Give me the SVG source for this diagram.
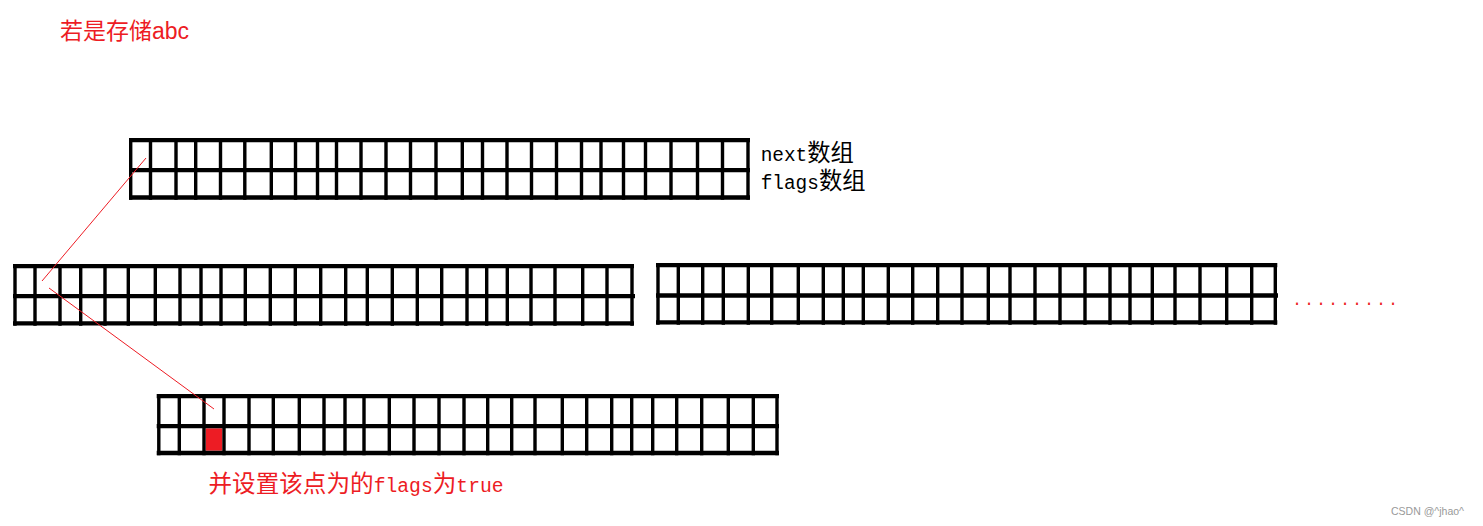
<svg xmlns="http://www.w3.org/2000/svg" width="1483" height="526" viewBox="0 0 1483 526">
<style>
.h{stroke:#000;stroke-width:4.3;fill:none}
.v{stroke:#000;stroke-width:3.4;fill:none}
.conn{stroke:#ED1C24;stroke-width:1;fill:none}
.red{fill:#ED1C24}
.cjk{font-family:"Noto Sans CJK SC",sans-serif}
.mono{font-family:"Liberation Mono","Noto Sans CJK SC",monospace}
</style>
<rect width="1483" height="526" fill="#fff"/>

<g id="title">
<text x="60" y="39" font-size="23" class="red" font-family="Liberation Sans, Noto Sans CJK SC, sans-serif">若是存储abc</text>
</g>

<g id="grid-top">
<path class="h" d="M129 140.2H750M129 170.2H750M129 197.5H750"/>
<path class="v" d="M130.7 138V199.7M150.5 138V199.7M176 138V199.7M195.7 138V199.7M220.5 138V199.7M244.8 138V199.7M271.3 138V199.7M295.5 138V199.7M317.5 138V199.7M336.5 138V199.7M361 138V199.7M386 138V199.7M410.5 138V199.7M436 138V199.7M462.3 138V199.7M482.5 138V199.7M507 138V199.7M531.5 138V199.7M556.5 138V199.7M581.5 138V199.7M601 138V199.7M623.5 138V199.7M645.5 138V199.7M671 138V199.7M697.5 138V199.7M722.5 138V199.7M748 138V199.7"/>
</g>

<g id="label-arrays">
<text font-size="23.3" class="cjk"><tspan x="760.7" y="160.5"><tspan font-family="Liberation Mono" font-size="19.4">next</tspan>数组</tspan><tspan x="760.7" y="188.5"><tspan font-family="Liberation Mono" font-size="19.4">flags</tspan>数组</tspan></text>
</g>

<g id="grid-mid-left">
<path class="h" d="M13 266.2H634M13 296.2H635M13 323.4H634"/>
<path class="v" d="M15 264V325.7M35 264V325.7M60 264V325.7M80.7 264V325.7M105 264V325.7M128.3 264V325.7M155.3 264V325.7M180 264V325.7M201 264V325.7M221 264V325.7M245.3 264V325.7M270.3 264V325.7M295.3 264V325.7M320.7 264V325.7M345.7 264V325.7M367.3 264V325.7M392.3 264V325.7M417.3 264V325.7M441.7 264V325.7M467 264V325.7M486.7 264V325.7M507.3 264V325.7M531 264V325.7M555 264V325.7M582.7 264V325.7M607 264V325.7M632 264V325.7"/>
</g>

<g id="grid-mid-right">
<path class="h" d="M656 265.2H1277.3M656 295.5H1278M656 322.4H1277.3"/>
<path class="v" d="M658 263V324.7M678.3 263V324.7M702.7 263V324.7M723.3 263V324.7M748.3 263V324.7M771.7 263V324.7M798.3 263V324.7M823.3 263V324.7M843.3 263V324.7M863.3 263V324.7M888.3 263V324.7M912.7 263V324.7M937.7 263V324.7M962 263V324.7M988.3 263V324.7M1010 263V324.7M1035 263V324.7M1060 263V324.7M1085 263V324.7M1110 263V324.7M1130 263V324.7M1152.3 263V324.7M1175 263V324.7M1200 263V324.7M1226.7 263V324.7M1251.7 263V324.7M1275.3 263V324.7"/>
</g>

<g id="ellipsis">
<text x="1292.3" y="305" font-size="16" letter-spacing="2.4" class="red" font-family="Liberation Mono, monospace">.........</text>
</g>

<g id="grid-bottom">
<rect x="205.7" y="428.3" width="16.6" height="22.4" class="red"/>
<path class="h" d="M156.7 396.2H779M156.7 426.2H779M156.7 453H779"/>
<path class="v" d="M158.8 394V455.3M179.3 394V455.3M204 394V455.3M224 394V455.3M249 394V455.3M273.3 394V455.3M299.3 394V455.3M324 394V455.3M345 394V455.3M364 394V455.3M389.3 394V455.3M414 394V455.3M439 394V455.3M464 394V455.3M487.7 394V455.3M511.7 394V455.3M535 394V455.3M562.3 394V455.3M586.7 394V455.3M611.7 394V455.3M631.7 394V455.3M652.7 394V455.3M676.7 394V455.3M701.7 394V455.3M728.3 394V455.3M753.3 394V455.3M777 394V455.3"/>
</g>

<g id="label-bottom">
<text x="208.5" y="492" font-size="23.6" class="cjk red">并设置该点为的<tspan font-family="Liberation Mono" font-size="19.7">flags</tspan>为<tspan font-family="Liberation Mono" font-size="19.7">true</tspan></text>
</g>

<g id="connectors">
<line class="conn" x1="146" y1="158" x2="42" y2="281"/>
<line class="conn" x1="49" y1="288" x2="214" y2="409"/>
</g>

<g id="watermark">
<text x="1391" y="515" font-size="10.5" fill="#999" font-family="Liberation Sans, sans-serif">CSDN @^jhao^</text>
</g>
</svg>
